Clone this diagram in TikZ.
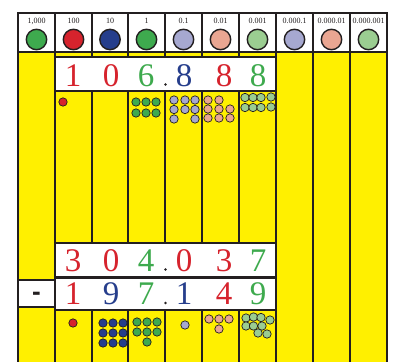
\documentclass[tikz,border=0pt]{standalone}
\usepackage{fontspec}
\setmainfont{Liberation Serif}
\newfontfamily\minusfont{Liberation Sans}
\definecolor{myyellow}{RGB}{255,240,0}
\definecolor{linec}{RGB}{35,31,32}
\definecolor{cred}{RGB}{214,35,45}
\definecolor{cblue}{RGB}{38,62,140}
\definecolor{cgreen}{RGB}{62,170,78}
\definecolor{cpurple}{RGB}{166,168,208}
\definecolor{csalmon}{RGB}{234,166,146}
\definecolor{clgreen}{RGB}{155,205,145}
\begin{document}
\begin{tikzpicture}[x=1pt,y=-1pt,
  gridline/.style={line width=1.8pt, draw=linec},
  numbox/.style={draw=linec, line width=2pt, fill=white},
  hdrlabel/.style={font=\fontsize{8}{8}\selectfont, text=linec, inner sep=0pt},
  hdrcirc/.style={draw=linec, line width=1.4pt},
  digit/.style={font=\fontsize{33}{33}\selectfont, anchor=base, inner sep=0pt},
  bead/.style={draw=linec, line width=0.7pt},
  decdot/.style={circle, fill=linec, inner sep=0pt, minimum size=2.6pt}]
\useasboundingbox (0,0) rectangle (394,362);
% backgrounds
\fill[myyellow] (18,52) rectangle (387,362);
\fill[white] (18,13) rectangle (387,52);
% grid
\foreach \x in {18,55,92,128,165,202,239,276,313,350,387}
  \draw[gridline] (\x,13) -- (\x,362);
\draw[gridline] (17.1,13) -- (387.9,13);
\draw[gridline] (17.1,52) -- (387.9,52);
% number boxes
\draw[numbox] (55,57) rectangle (276,91);
\draw[numbox] (55,243) rectangle (276,277);
\draw[numbox] (55,277.5) rectangle (276,310);
\draw[numbox] (18,280) rectangle (55,307);
\node[font=\minusfont\bfseries\fontsize{26}{26}\selectfont, anchor=base, inner sep=0pt, text=linec] (minus) at (36.5,300.5) {-};
% header
\foreach \lab/\c/\x [count=\i] in {1{,}000/cgreen/36.5, 100/cred/73.5, 10/cblue/110, 1/cgreen/146.5, 0.1/cpurple/183.5, 0.01/csalmon/220.5, 0.001/clgreen/257.5, 0.000.1/cpurple/294.5, 0.000.01/csalmon/331.5, 0.000.001/clgreen/368.5}{
  \node[hdrlabel] (h\i) at (\x,21) {\lab};
  \draw[hdrcirc, fill=\c] (\x,39.5) circle (10.2);
}
% digits row 1
\foreach \d/\c/\x [count=\i] in {1/cred/73, 0/cred/111, 6/cgreen/146, 8/cblue/184, 8/cred/224, 8/cgreen/258}
  \node[digit, text=\c] (a\i) at (\x,86) {\d};
\node[decdot] (adot) at (165.5,84.5) {};
% digits row 2
\foreach \d/\c/\x [count=\i] in {3/cred/73, 0/cred/111, 4/cgreen/146, 0/cred/184, 3/cred/224, 7/cgreen/258}
  \node[digit, text=\c] (b\i) at (\x,271) {\d};
\node[decdot] (bdot) at (165.5,269.5) {};
% digits row 3
\foreach \d/\c/\x [count=\i] in {1/cred/73, 9/cblue/111, 7/cgreen/146, 1/cblue/184, 4/cred/224, 9/cgreen/258}
  \node[digit, text=\c] (c\i) at (\x,304.5) {\d};
\node[decdot] (cdot) at (165.5,303) {};
% top beads
\def\r{4.2}
\draw[bead, fill=cred] (63,102) circle (\r);
\foreach \p in {(136,102),(146,102),(156,102),(136,113),(146,113),(156,113)}
  \draw[bead, fill=cgreen] \p circle (\r);
\foreach \p in {(174,100),(185,100),(195,100),(174,109.5),(185,109.5),(195,109.5),(174,119),(195,119)}
  \draw[bead, fill=cpurple] \p circle (\r);
\foreach \p in {(208,100),(219,100),(208,109),(219,109),(230,109),(208,118),(219,118),(230,118)}
  \draw[bead, fill=csalmon] \p circle (\r);
\foreach \p in {(245,97.5),(253,97.5),(261,97.5),(271,97),(245,107.5),(253,107.5),(261,107.5),(271,107)}
  \draw[bead, fill=clgreen] \p circle (\r);
% bottom beads
\draw[bead, fill=cred] (73,323) circle (\r);
\foreach \p in {(103,323),(113,323),(123,323),(103,333),(113,333),(123,333),(103,343),(113,343),(123,343)}
  \draw[bead, fill=cblue] \p circle (\r);
\foreach \p in {(137,322),(147,322),(157,322),(137,332),(147,332),(157,332),(147,342)}
  \draw[bead, fill=cgreen] \p circle (\r);
\draw[bead, fill=cpurple] (185,325) circle (\r);
\foreach \p in {(209,319),(219,319),(229,319),(219,329)}
  \draw[bead, fill=csalmon] \p circle (\r);
\foreach \p in {(246,318),(253.5,317),(261,317.5),(270,320),(246,326),(253.5,326),(262,326),(258,333),(267,334)}
  \draw[bead, fill=clgreen] \p circle (\r);
\end{tikzpicture}
\end{document}
